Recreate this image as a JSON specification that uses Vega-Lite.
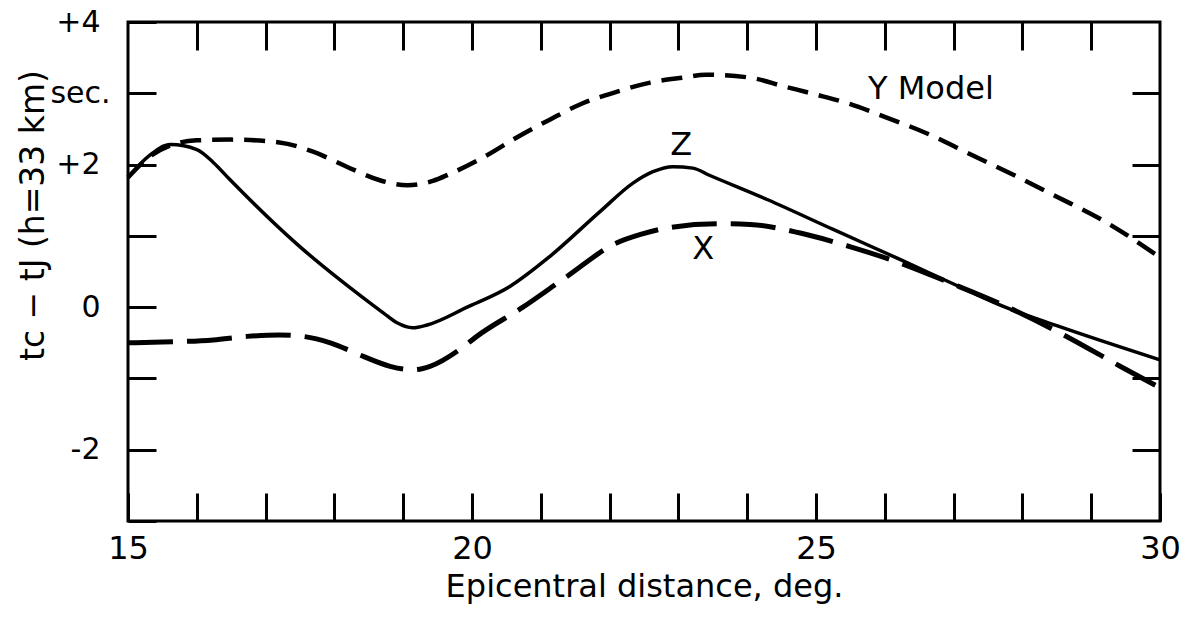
{
  "$schema": "https://vega.github.io/schema/vega-lite/v6.json",
  "width": 1032,
  "height": 499,
  "autosize": {"type": "none"},
  "padding": {"left": 128, "top": 22, "right": 31, "bottom": 99},
  "background": "white",
  "config": {
    "view": {"stroke": "black", "strokeWidth": 3},
    "font": "DejaVu Sans",
    "axis": {"domain": false, "grid": false, "tickColor": "black", "tickWidth": 3, "labelColor": "black", "titleColor": "black", "labelFont": "DejaVu Sans", "titleFont": "DejaVu Sans", "labelFontWeight": "normal", "titleFontWeight": "normal"}
  },
  "datasets": {
    "Z": [
      {"d": 15, "t": 1.82}, {"d": 15.3, "t": 2.12}, {"d": 15.62, "t": 2.28}, {"d": 16.0, "t": 2.21},
      {"d": 16.24, "t": 2.03}, {"d": 16.48, "t": 1.79}, {"d": 17.46, "t": 0.88}, {"d": 18.42, "t": 0.13},
      {"d": 18.71, "t": -0.08}, {"d": 18.91, "t": -0.22}, {"d": 19.14, "t": -0.29}, {"d": 19.35, "t": -0.25},
      {"d": 19.93, "t": 0.0}, {"d": 20.55, "t": 0.29}, {"d": 21.13, "t": 0.71}, {"d": 21.86, "t": 1.34},
      {"d": 22.34, "t": 1.74}, {"d": 22.63, "t": 1.9}, {"d": 22.92, "t": 1.97}, {"d": 23.21, "t": 1.95},
      {"d": 23.45, "t": 1.85}, {"d": 24.29, "t": 1.51}, {"d": 25.25, "t": 1.09}, {"d": 26.22, "t": 0.67},
      {"d": 27.19, "t": 0.24}, {"d": 27.75, "t": 0.0}, {"d": 28.5, "t": -0.26}, {"d": 30, "t": -0.74}
    ],
    "Y": [
      {"d": 15, "t": 1.82}, {"d": 15.3, "t": 2.1}, {"d": 15.65, "t": 2.28}, {"d": 16.0, "t": 2.34},
      {"d": 16.5, "t": 2.35}, {"d": 17.2, "t": 2.31}, {"d": 17.69, "t": 2.18}, {"d": 18.18, "t": 1.97},
      {"d": 18.66, "t": 1.78}, {"d": 19.06, "t": 1.71}, {"d": 19.43, "t": 1.77}, {"d": 19.68, "t": 1.87},
      {"d": 20.16, "t": 2.1}, {"d": 20.65, "t": 2.38}, {"d": 21.13, "t": 2.63}, {"d": 21.61, "t": 2.86},
      {"d": 22.1, "t": 3.02}, {"d": 22.59, "t": 3.15}, {"d": 23.07, "t": 3.22}, {"d": 23.4, "t": 3.26},
      {"d": 24.04, "t": 3.22}, {"d": 24.52, "t": 3.1}, {"d": 25.01, "t": 2.98}, {"d": 25.49, "t": 2.85},
      {"d": 25.97, "t": 2.68}, {"d": 26.7, "t": 2.4}, {"d": 27.19, "t": 2.17}, {"d": 27.86, "t": 1.86},
      {"d": 28.5, "t": 1.55}, {"d": 29.2, "t": 1.2}, {"d": 30, "t": 0.7}
    ],
    "X": [
      {"d": 15, "t": -0.5}, {"d": 15.5, "t": -0.49}, {"d": 16.24, "t": -0.46}, {"d": 16.73, "t": -0.41},
      {"d": 17.2, "t": -0.39}, {"d": 17.54, "t": -0.41}, {"d": 17.94, "t": -0.5}, {"d": 18.42, "t": -0.69},
      {"d": 18.81, "t": -0.83}, {"d": 19.14, "t": -0.88}, {"d": 19.39, "t": -0.83}, {"d": 19.87, "t": -0.56},
      {"d": 20.07, "t": -0.41}, {"d": 20.74, "t": 0.0}, {"d": 21.38, "t": 0.43}, {"d": 22.1, "t": 0.9},
      {"d": 22.45, "t": 1.02}, {"d": 22.83, "t": 1.11}, {"d": 23.56, "t": 1.17}, {"d": 24.04, "t": 1.16},
      {"d": 24.77, "t": 1.04}, {"d": 25.49, "t": 0.85}, {"d": 26.22, "t": 0.62}, {"d": 26.95, "t": 0.34},
      {"d": 27.67, "t": 0.05}, {"d": 28.6, "t": -0.39}, {"d": 29.46, "t": -0.85}, {"d": 30, "t": -1.13}
    ],
    "labels": [
      {"d": 26.67, "t": 3.06, "text": "Y  Model"},
      {"d": 23.04, "t": 2.27, "text": "Z"},
      {"d": 23.36, "t": 0.81, "text": "X"}
    ]
  },
  "resolve": {"axis": {"x": "independent", "y": "independent"}},
  "layer": [
    {
      "data": {"name": "Y"},
      "mark": {"type": "line", "interpolate": "monotone", "color": "black", "strokeWidth": 4.5, "strokeDash": [21, 11]},
      "encoding": {
        "x": {"field": "d", "type": "quantitative", "scale": {"domain": [15, 30], "nice": false, "zero": false},
          "axis": {"orient": "bottom", "values": [15, 16, 17, 18, 19, 20, 21, 22, 23, 24, 25, 26, 27, 28, 29, 30], "tickSize": -28, "labelPadding": 40, "labelFontSize": 32, "labelExpr": "datum.value % 5 == 0 ? datum.label : ''", "labelFlush": false, "labelOverlap": false, "title": "Epicentral distance, deg.", "titleFontSize": 32, "titlePadding": 7}},
        "y": {"field": "t", "type": "quantitative", "scale": {"domain": [-3, 4], "nice": false, "zero": false},
          "axis": {"orient": "left", "values": [-3, -2, -1, 0, 1, 2, 3, 4], "tickSize": -28, "labelPadding": {"condition": {"test": "datum.value == 3", "value": 46}, "value": 56}, "labelFontSize": 30, "labelExpr": "datum.value == 4 ? '+4' : datum.value == 3 ? 'sec.' : datum.value == 2 ? '+2' : datum.value == 0 ? '0' : datum.value == -2 ? '-2' : ''", "labelFlush": false, "labelOverlap": false, "title": "tc − tJ  (h=33 km)", "titleFontSize": 33, "titleX": -95, "titleY": 193, "titleAngle": 270, "titleBaseline": "middle", "titleAlign": "center"}}
      }
    },
    {
      "data": {"name": "Z"},
      "mark": {"type": "line", "interpolate": "monotone", "color": "black", "strokeWidth": 3.5},
      "encoding": {
        "x": {"field": "d", "type": "quantitative", "scale": {"domain": [15, 30], "nice": false, "zero": false},
          "axis": {"orient": "top", "values": [16, 17, 18, 19, 20, 21, 22, 23, 24, 25, 26, 27, 28, 29], "tickSize": -28, "labels": false, "title": null}},
        "y": {"field": "t", "type": "quantitative", "scale": {"domain": [-3, 4], "nice": false, "zero": false},
          "axis": {"orient": "right", "values": [-2, -1, 1, 2, 3], "tickSize": -28, "labels": false, "title": null}}
      }
    },
    {
      "data": {"name": "X"},
      "mark": {"type": "line", "interpolate": "monotone", "color": "black", "strokeWidth": 5, "strokeDash": [45, 14]},
      "encoding": {
        "x": {"field": "d", "type": "quantitative", "axis": null},
        "y": {"field": "t", "type": "quantitative", "axis": null}
      }
    },
    {
      "mark": {"type": "rule", "color": "black", "strokeWidth": 3},
      "encoding": {"y": {"datum": 0, "type": "quantitative", "axis": null}}
    },
    {
      "data": {"name": "labels"},
      "mark": {"type": "text", "fontSize": 32, "color": "black", "baseline": "middle", "align": "center", "font": "DejaVu Sans"},
      "encoding": {
        "x": {"field": "d", "type": "quantitative", "axis": null},
        "y": {"field": "t", "type": "quantitative", "axis": null},
        "text": {"field": "text"}
      }
    }
  ]
}
